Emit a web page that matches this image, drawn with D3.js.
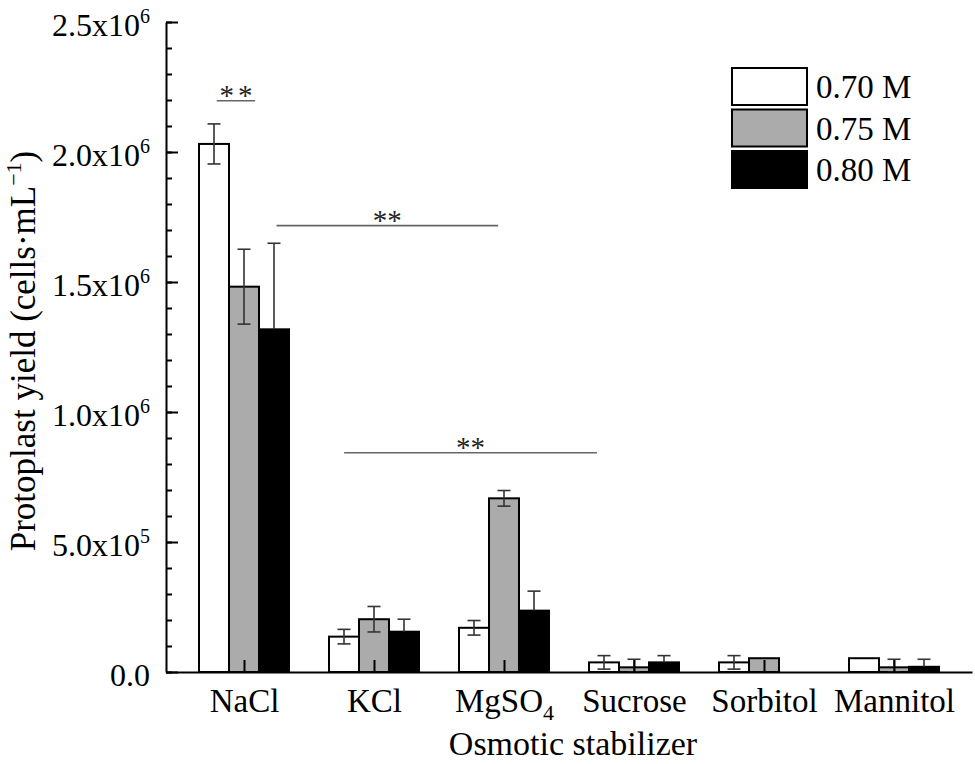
<!DOCTYPE html>
<html>
<head>
<meta charset="utf-8">
<script src="https://cdn.jsdelivr.net/npm/d3@7.9.0/dist/d3.min.js"></script>
<style>
  body { margin: 0; background: #fff; }
  svg { display: block; font-family: "Liberation Serif", "Times New Roman", serif; }
</style>
</head>
<body>
<svg id="chart" width="975" height="764"></svg>
<script>
const categories = ['NaCl', 'KCl', 'MgSO4', 'Sucrose', 'Sorbitol', 'Mannitol'];
const series = ['0.70 M', '0.75 M', '0.80 M'];
const fills = ['#ffffff', '#ababab', '#000000'];

const yield070 = [2.031e6, 0.136e6, 0.170e6, 0.037e6, 0.037e6, 0.053e6];
const err070 = [0.077e6, 0.028e6, 0.028e6, 0.026e6, 0.026e6, 0];
const yield075 = [1.482e6, 0.203e6, 0.668e6, 0.018e6, 0.053e6, 0.018e6];
const err075 = [0.144e6, 0.049e6, 0.030e6, 0.031e6, 0, 0.031e6];
const yield080 = [1.318e6, 0.155e6, 0.236e6, 0.037e6, 0, 0.020e6];
const err080 = [0.331e6, 0.048e6, 0.075e6, 0.026e6, 0, 0.029e6];

// significance brackets: from / to in category units, height in cells/mL
const sigFrom = [0.79, 1.25, 1.77];
const sigTo = [1.085, 2.955, 3.715];
const sigY = [2.197e6, 1.717e6, 0.843e6];
const sigText = ['**', '**', '**'];

const yTicks = [0, 5e5, 1e6, 1.5e6, 2e6, 2.5e6];

const values = [yield070, yield075, yield080];
const errors = [err070, err075, err080];

const svg = d3.select('#chart');

let x = d3.scaleLinear().domain([0.4, 6.6]).range([166, 972]);
let y = d3.scaleLinear().domain([0, 2.5e6]).range([672, 22]);
let offset = d3.scaleBand().domain(series).range([-45, 45]);

// bars
let bars = [];
series.forEach((s, k) => {
  categories.forEach((c, i) => {
    bars.push({ s, k, i, v: values[k][i], e: errors[k][i] });
  });
});

svg.append('g')
  .selectAll('rect')
  .data(bars.filter((d) => d.v > 0))
  .join('rect')
  .attr('x', (d) => x(d.i + 1) + offset(d.s))
  .attr('y', (d) => y(d.v))
  .attr('width', offset.bandwidth())
  .attr('height', (d) => y(0) - y(d.v))
  .attr('fill', (d) => fills[d.k])
  .attr('stroke', '#000')
  .attr('stroke-width', 2);

// error bars (lower half disappears inside the black bars)
let errG = svg.append('g')
  .attr('stroke', '#333')
  .attr('stroke-width', 1.6)
  .attr('fill', 'none');

bars.filter((d) => d.e > 0).forEach((d) => {
  let cx = x(d.i + 1) + offset(d.s) + offset.bandwidth() / 2;
  let top = y(d.v + d.e);
  let bot = d.k === 2 ? y(d.v) : y(Math.max(0, d.v - d.e));
  errG.append('line').attr('x1', cx).attr('x2', cx).attr('y1', top).attr('y2', bot);
  errG.append('line').attr('x1', cx - 6.5).attr('x2', cx + 6.5).attr('y1', top).attr('y2', top);
  if (d.k !== 2) {
    errG.append('line').attr('x1', cx - 6.5).attr('x2', cx + 6.5).attr('y1', bot).attr('y2', bot);
  }
});

// y axis: minor then major
svg.append('g')
  .attr('transform', `translate(${x.range()[0]},0)`)
  .call(d3.axisLeft(y).ticks(25).tickSize(-6).tickSizeOuter(0).tickFormat(''))
  .call((g) => g.select('.domain').remove())
  .selectAll('line').attr('stroke', '#000').attr('stroke-width', 2);

let yAxis = svg.append('g')
  .attr('transform', `translate(${x.range()[0]},0)`)
  .call(d3.axisLeft(y).tickValues(yTicks).tickSize(-12).tickSizeOuter(0).tickPadding(16))
  .attr('font-family', null)
  .attr('font-size', 32);

yAxis.select('.domain').attr('stroke', '#000').attr('stroke-width', 2);
yAxis.selectAll('.tick line').attr('stroke', '#000').attr('stroke-width', 2);
yAxis.selectAll('.tick text')
  .attr('fill', '#000')
  .attr('dy', '0.42em')
  .each(function (v) {
    let t = d3.select(this).text('');
    if (v === 0) {
      t.text('0.0');
      return;
    }
    let p = Math.floor(Math.log10(v));
    t.append('tspan').text(`${(v / 10 ** p).toFixed(1)}x10`);
    t.append('tspan').attr('font-size', 20).attr('dy', -13).text(p);
  });

// x axis
let xAxis = svg.append('g')
  .attr('transform', `translate(0,${y(0)})`)
  .call(d3.axisBottom(x).tickValues(d3.range(1, categories.length + 1))
    .tickSize(-12).tickSizeOuter(0).tickFormat((d) => categories[d - 1]))
  .attr('font-family', null)
  .attr('font-size', 33);

xAxis.select('.domain').attr('stroke', '#000').attr('stroke-width', 2);
xAxis.selectAll('.tick line').attr('stroke', '#000').attr('stroke-width', 2);
xAxis.selectAll('.tick text')
  .attr('fill', '#000')
  .attr('dy', null)
  .attr('y', 40)
  .each(function (d) {
    let name = categories[d - 1];
    let m = name.match(/^(.*?)(\d+)$/);
    if (!m) return;
    let t = d3.select(this).text('');
    t.append('tspan').text(m[1]);
    t.append('tspan').attr('font-size', 22).attr('dy', 8).text(m[2]);
  });

// axis titles
svg.append('text')
  .attr('x', x(3.5) + 4)
  .attr('y', 755)
  .attr('text-anchor', 'middle')
  .attr('font-size', 34)
  .text('Osmotic stabilizer');

let yTitle = svg.append('text')
  .attr('transform', `translate(35,${(y(0) + y(2.5e6)) / 2 + 4}) rotate(-90)`)
  .attr('text-anchor', 'middle')
  .attr('font-size', 35);
yTitle.append('tspan').text('Protoplast yield (cells·mL');
yTitle.append('tspan').attr('font-size', 22).attr('dy', -14).text('−1');
yTitle.append('tspan').attr('dy', 14).text(')');

// significance marks
sigFrom.forEach((f, j) => {
  svg.append('line')
    .attr('x1', x(f)).attr('x2', x(sigTo[j]))
    .attr('y1', y(sigY[j])).attr('y2', y(sigY[j]))
    .attr('stroke', '#666')
    .attr('stroke-width', 1.6);
  svg.append('text')
    .attr('x', (x(f) + x(sigTo[j])) / 2 + (j === 0 ? 2 : 0))
    .attr('y', y(sigY[j]) + 4)
    .attr('text-anchor', 'middle')
    .attr('font-size', 29)
    .attr('letter-spacing', j === 0 ? 4 : 0)
    .attr('fill', '#222')
    .text(sigText[j]);
});

// legend
let legend = svg.append('g').attr('transform', 'translate(732,68)');
series.forEach((s, k) => {
  let row = legend.append('g').attr('transform', `translate(0,${k * 41.5})`);
  row.append('rect')
    .attr('width', 75).attr('height', 37)
    .attr('fill', fills[k])
    .attr('stroke', '#000')
    .attr('stroke-width', 2);
  row.append('text')
    .attr('x', 84).attr('y', 30)
    .attr('font-size', 33)
    .text(s);
});
</script>
</body>
</html>
